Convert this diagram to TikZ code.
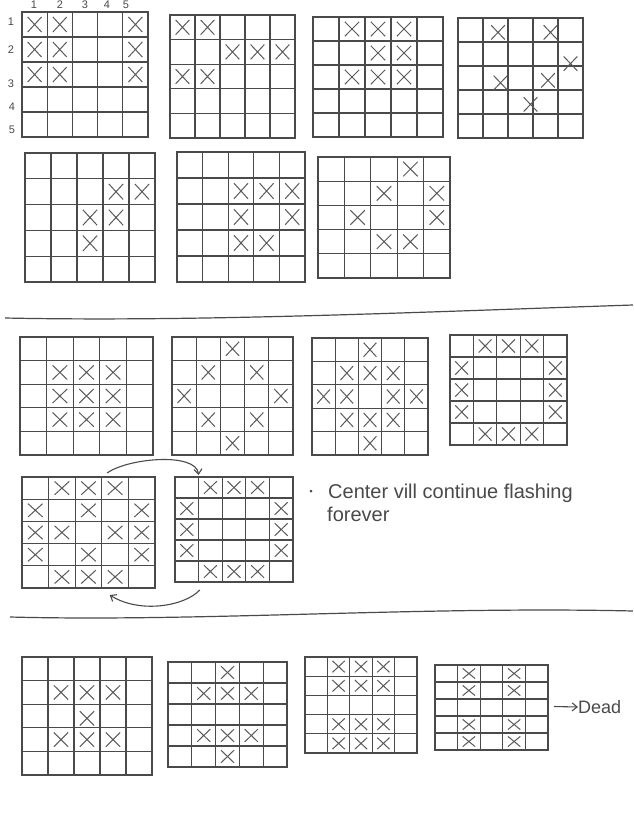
\documentclass[tikz,border=0pt]{standalone}
\usepackage{fontspec}
\setmainfont{Liberation Sans}
\usetikzlibrary{calc,shapes.misc,arrows.meta}
\definecolor{pencil}{HTML}{4A4A4A}
\definecolor{pencilx}{HTML}{5A5A5A}
\tikzset{
  gridbox/.style={draw=pencil, line width=1.1pt, rectangle, inner sep=0pt, outer sep=0pt},
  gridline/.style={draw=pencil, line width=1.1pt},
  xmark/.style={draw=pencilx, cross out, line width=1pt, inner sep=0pt, outer sep=0pt},
  sepline/.style={draw=pencil, line width=1.2pt},
  lbl/.style={font=\fontsize{11}{12}\selectfont, text=pencil, inner sep=0pt},
  hand/.style={font=\fontsize{20}{22}\selectfont, text=pencil, inner sep=0pt, anchor=base west},
  dot/.style={circle, fill=pencil, inner sep=0pt, minimum size=3pt},
  flow/.style={draw=pencil, line width=1.1pt, -{Straight Barb[length=5pt,width=8pt]}},
}
\newcommand{\lifegrid}[6]{%
  \pgfmathsetmacro{\gw}{#4-#2}\pgfmathsetmacro{\gh}{#5-#3}%
  \node[gridbox, minimum width=\gw pt, minimum height=\gh pt] (#1) at ({(#2+#4)/2},{(#3+#5)/2}) {};
  \foreach \k in {1,2,3,4}{%
    \draw[gridline] ($(#1.north west)!\k/5!(#1.north east)$) -- ($(#1.south west)!\k/5!(#1.south east)$);
    \draw[gridline] ($(#1.north west)!\k/5!(#1.south west)$) -- ($(#1.north east)!\k/5!(#1.south east)$);
  }%
  \foreach \c/\r [count=\n] in {#6}{%
    \node[xmark, minimum width=0.55*\gw/5*1pt, minimum height=0.6*\gh/5*1pt] (#1-x\n) at ({#2+(\c-0.5)*\gw/5},{#3+(\r-0.5)*\gh/5}) {};
  }%
}
\begin{document}
\begin{tikzpicture}[x=1pt,y=-1pt]
\fill[white] (0,0) rectangle (633,815);
\useasboundingbox (0,0) rectangle (633,815);

% ---- section 1 ----
\lifegrid{A1}{22}{12}{148}{137}{1/1,2/1,5/1,1/2,2/2,5/2,1/3,2/3,5/3}
\lifegrid{A2}{170}{15}{295}{138}{1/1,2/1,3/2,4/2,5/2,1/3,2/3}
\lifegrid{A3}{313}{17}{443}{137}{2/1,3/1,4/1,3/2,4/2,2/3,3/3,4/3}
\lifegrid{A4}{458}{18}{583}{138}{2.1/1.1,4.2/1.1,5/2.4,2.2/3.2,4.1/3.1,3.4/4.1}
\lifegrid{B1}{25}{153}{155}{282}{4/2,5/2,3/3,4/3,3/4}
\lifegrid{B2}{177}{152}{305}{282}{3/2,4/2,5/2,3/3,5/3,3/4,4/4}
\lifegrid{B3}{318}{157}{450}{278}{4/1,3/2,5/2,2/3,5/3,3/4,4/4}

% labels of the first grid
\node[lbl] (c1) at (34,5) {1};
\node[lbl] (c2) at (60,5) {2};
\node[lbl] (c3) at (85,5) {3};
\node[lbl] (c4) at (107,5) {4};
\node[lbl] (c5) at (126,5) {5};
\node[lbl] (r1) at (11,22) {1};
\node[lbl] (r2) at (11,50) {2};
\node[lbl] (r3) at (11,84) {3};
\node[lbl] (r4) at (12,107) {4};
\node[lbl] (r5) at (12,130) {5};

\draw[sepline] (5,318) .. controls (200,322) and (420,312) .. (633,305);

% ---- section 2 ----
\lifegrid{C1}{20}{337}{153}{455}{2/2,3/2,4/2,2/3,3/3,4/3,2/4,3/4,4/4}
\lifegrid{C2}{172}{337}{293}{455}{3/1,2/2,4/2,1/3,5/3,2/4,4/4,3/5}
\lifegrid{C3}{312}{338}{428}{455}{3/1,2/2,3/2,4/2,1/3,2/3,4/3,5/3,2/4,3/4,4/4,3/5}
\lifegrid{C4}{450}{335}{567}{445}{2/1,3/1,4/1,1/2,5/2,1/3,5/3,1/4,5/4,2/5,3/5,4/5}
\lifegrid{D1}{22}{477}{155}{588}{2/1,3/1,4/1,1/2,3/2,5/2,1/3,2/3,4/3,5/3,1/4,3/4,5/4,2/5,3/5,4/5}
\lifegrid{D2}{175}{477}{293}{582}{2/1,3/1,4/1,1/2,5/2,1/3,5/3,1/4,5/4,2/5,3/5,4/5}

\coordinate (t1) at ($(D1.north west)!0.64!(D1.north east)+(0,-4)$);
\coordinate (t2) at ($(D2.north west)!0.2!(D2.north east)+(0,-2)$);
\coordinate (b1) at ($(D2.south west)!0.21!(D2.south east)+(0,8)$);
\coordinate (b2) at ($(D1.south west)!0.66!(D1.south east)+(0,7)$);
\draw[flow] (t1) .. controls (128,458) and (196,452) .. (t2);
\draw[flow] (b1) .. controls (185,606) and (140,614) .. (b2);

\node[dot] (bullet) at (311,491) {};
\node[hand] (note) at (328,498) {Center vill continue flashing};
\node[hand] (note2) at (327,521) {forever};

\draw[sepline] (10,617) .. controls (200,622) and (420,606) .. (633,611);

% ---- section 3 ----
\lifegrid{E1}{22}{657}{152}{775}{2/2,3/2,4/2,3/3.1,2/4,3/4,4/4}
\lifegrid{E2}{168}{662}{287}{767}{3/1,2/2,3/2,4/2,2/4,3/4,4/4,3/5}
\lifegrid{E3}{305}{657}{417}{753}{2/1,3/1,4/1,2/2,3/2,4/2,2/4,3/4,4/4,2/5,3/5,4/5}
\lifegrid{E4}{435}{665}{548}{750}{2/1,4/1,2/2,4/2,2/4,4/4,2/5,4/5}

\node[hand, font=\fontsize{18}{20}\selectfont, anchor=west] (dead) at (578,707) {Dead};
\draw[flow] ($(E4.east)+(6,-1)$) -- (dead.west);
\end{tikzpicture}
\end{document}
